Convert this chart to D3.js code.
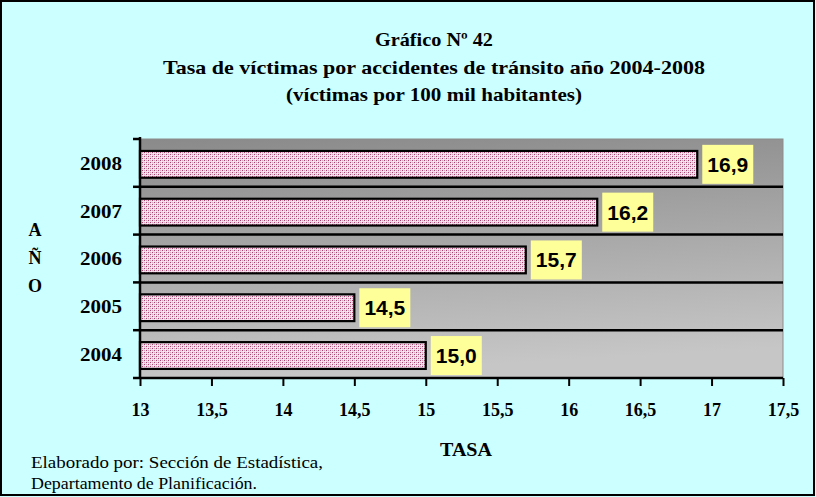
<!DOCTYPE html>
<html>
<head>
<meta charset="utf-8">
<script src="https://cdn.jsdelivr.net/npm/d3@7"></script>
<style>
  html, body { margin: 0; padding: 0; background: #ccffff; }
  svg { display: block; }
</style>
</head>
<body>
<svg id="chart" width="816" height="497"></svg>
<script>
// Tasa de víctimas por accidentes de tránsito, 2004-2008
const years = ["2004", "2005", "2006", "2007", "2008"];
const rates = [15.0, 14.5, 15.7, 16.2, 16.9];
const rateLabels = ["15,0", "14,5", "15,7", "16,2", "16,9"];
const xTicks = [13, 13.5, 14, 14.5, 15, 15.5, 16, 16.5, 17, 17.5];
const xTickLabels = ["13", "13,5", "14", "14,5", "15", "15,5", "16", "16,5", "17", "17,5"];
const titleLines = [
  "Gráfico Nº 42",
  "Tasa de víctimas por accidentes de tránsito año 2004-2008",
  "(víctimas por 100 mil habitantes)"
];
const yAxisLetters = ["A", "Ñ", "O"];
const footerLines = ["Elaborado por: Sección de Estadística,", "Departamento de Planificación."];

const svg = d3.select("#chart");
const W = 816, H = 497;
const plot = { left: 140, right: 783, top: 139, bottom: 378 };

const defs = svg.append("defs");
const grad = defs.append("linearGradient").attr("id", "plotBg")
  .attr("x1", "0").attr("y1", "0").attr("x2", "0.15").attr("y2", "1");
grad.append("stop").attr("offset", "0").attr("stop-color", "#8a8a8a");
grad.append("stop").attr("offset", "1").attr("stop-color", "#c6c6c6");

// fine dotted fill for the bars
const pat = defs.append("pattern").attr("id", "barFill")
  .attr("width", 4).attr("height", 4).attr("patternUnits", "userSpaceOnUse");
pat.append("rect").attr("width", 4).attr("height", 4).attr("fill", "#f3dce8");
[[0, 0], [2, 2]].forEach(([px, py]) =>
  pat.append("rect").attr("x", px).attr("y", py).attr("width", 1).attr("height", 1).attr("fill", "#a8436f"));
[[2, 0], [0, 2]].forEach(([px, py]) =>
  pat.append("rect").attr("x", px).attr("y", py).attr("width", 1).attr("height", 1).attr("fill", "#d9a3bd"));
[[1, 1], [3, 3]].forEach(([px, py]) =>
  pat.append("rect").attr("x", px).attr("y", py).attr("width", 1).attr("height", 1).attr("fill", "#fbf2f6"));

// page background and frame
svg.append("rect").attr("width", W).attr("height", H).attr("fill", "#ccffff");
svg.append("rect").attr("x", 1).attr("y", 1).attr("width", W - 3).attr("height", H - 3)
  .attr("fill", "none").attr("stroke", "#000").attr("stroke-width", 2);

// titles
const serif = "'Liberation Serif', 'Times New Roman', serif";
const titleY = [46, 74, 101];
const titleW = [118, 542, 296];
svg.append("g").selectAll("text").data(titleLines).join("text")
  .attr("x", 434).attr("y", (d, i) => titleY[i])
  .attr("text-anchor", "middle")
  .attr("font-family", serif).attr("font-weight", "bold").attr("font-size", 19)
  .attr("textLength", (d, i) => titleW[i]).attr("lengthAdjust", "spacingAndGlyphs")
  .text(d => d);

const x = d3.scaleLinear().domain([13, 17.5]).range([plot.left, plot.right]);
const y = d3.scaleBand().domain(years.slice().reverse()).range([plot.top, plot.bottom]).padding(0);

// plot area
svg.append("rect").attr("x", plot.left).attr("y", plot.top)
  .attr("width", plot.right - plot.left).attr("height", plot.bottom - plot.top)
  .attr("fill", "url(#plotBg)").attr("stroke", "#8c8c8c").attr("stroke-width", 1);

// horizontal separators between categories
const inner = y.domain().slice(1);
svg.append("g").selectAll("line").data(inner).join("line")
  .attr("x1", plot.left).attr("x2", plot.right)
  .attr("y1", d => y(d)).attr("y2", d => y(d))
  .attr("stroke", "#000").attr("stroke-width", 2.5);

// bars
const data = years.map((yr, i) => ({ year: yr, value: rates[i], label: rateLabels[i] }));
const barOff = 0.25, barH = 0.56;
svg.append("g").selectAll("rect").data(data).join("rect")
  .attr("x", x(13))
  .attr("y", d => y(d.year) + y.bandwidth() * barOff)
  .attr("width", d => x(d.value) - x(13))
  .attr("height", y.bandwidth() * barH)
  .attr("fill", "url(#barFill)").attr("stroke", "#000").attr("stroke-width", 2.2);

// value labels
const lab = svg.append("g").selectAll("g").data(data).join("g")
  .attr("transform", d => `translate(${x(d.value) + 5},${y(d.year) + y.bandwidth() * (barOff + barH / 2)})`);
lab.append("rect").attr("x", 0).attr("y", -19.5).attr("width", 51).attr("height", 39).attr("fill", "#ffff99");
lab.append("text").attr("x", 25.5).attr("y", 7.5).attr("text-anchor", "middle")
  .attr("font-family", "'Liberation Sans', Arial, sans-serif").attr("font-weight", "bold").attr("font-size", 21)
  .text(d => d.label);

// axes
const xAxis = d3.axisBottom(x).tickValues(xTicks).tickSize(8)
  .tickFormat((d, i) => xTickLabels[i]);
const gx = svg.append("g").attr("transform", `translate(0,${plot.bottom})`).call(xAxis);
gx.select(".domain").attr("stroke", "#000").attr("stroke-width", 2.5).attr("d", `M${plot.left},0H${plot.right}`);
gx.selectAll(".tick line").attr("stroke", "#000").attr("stroke-width", 2);
gx.selectAll(".tick text").attr("y", 25)
  .attr("font-family", serif).attr("font-weight", "bold").attr("font-size", 18).attr("fill", "#000");

const yAxis = d3.axisLeft(y).tickSize(0).tickPadding(18);
const gy = svg.append("g").attr("transform", `translate(${plot.left},0)`).call(yAxis);
gy.select(".domain").attr("stroke", "#000").attr("stroke-width", 2.5).attr("d", `M0,${plot.top - 2}V${plot.bottom}`);
gy.selectAll(".tick text").attr("dy", "0.36em")
  .attr("font-family", serif).attr("font-weight", "bold").attr("font-size", 19).attr("fill", "#000")
  .attr("textLength", 42).attr("lengthAdjust", "spacingAndGlyphs");
// boundary tick marks on the category axis
const bounds = y.domain().map(d => y(d)).concat([plot.bottom]);
gy.append("g").selectAll("line").data(bounds).join("line")
  .attr("x1", -7).attr("x2", 0).attr("y1", d => d).attr("y2", d => d)
  .attr("stroke", "#000").attr("stroke-width", 2.5);

// vertical axis title
svg.append("g").selectAll("text").data(yAxisLetters).join("text")
  .attr("x", 35).attr("y", (d, i) => 236 + i * 28)
  .attr("text-anchor", "middle")
  .attr("font-family", serif).attr("font-weight", "bold").attr("font-size", 18)
  .text(d => d);

// horizontal axis title
svg.append("text").attr("x", 466).attr("y", 456).attr("text-anchor", "middle")
  .attr("font-family", serif).attr("font-weight", "bold").attr("font-size", 19)
  .attr("textLength", 52).attr("lengthAdjust", "spacingAndGlyphs")
  .text("TASA");

// source note
const footW = [292, 226];
svg.append("g").selectAll("text").data(footerLines).join("text")
  .attr("x", 31).attr("y", (d, i) => 468 + i * 21)
  .attr("font-family", serif).attr("font-size", 16)
  .attr("textLength", (d, i) => footW[i]).attr("lengthAdjust", "spacingAndGlyphs")
  .text(d => d);
</script>
</body>
</html>
